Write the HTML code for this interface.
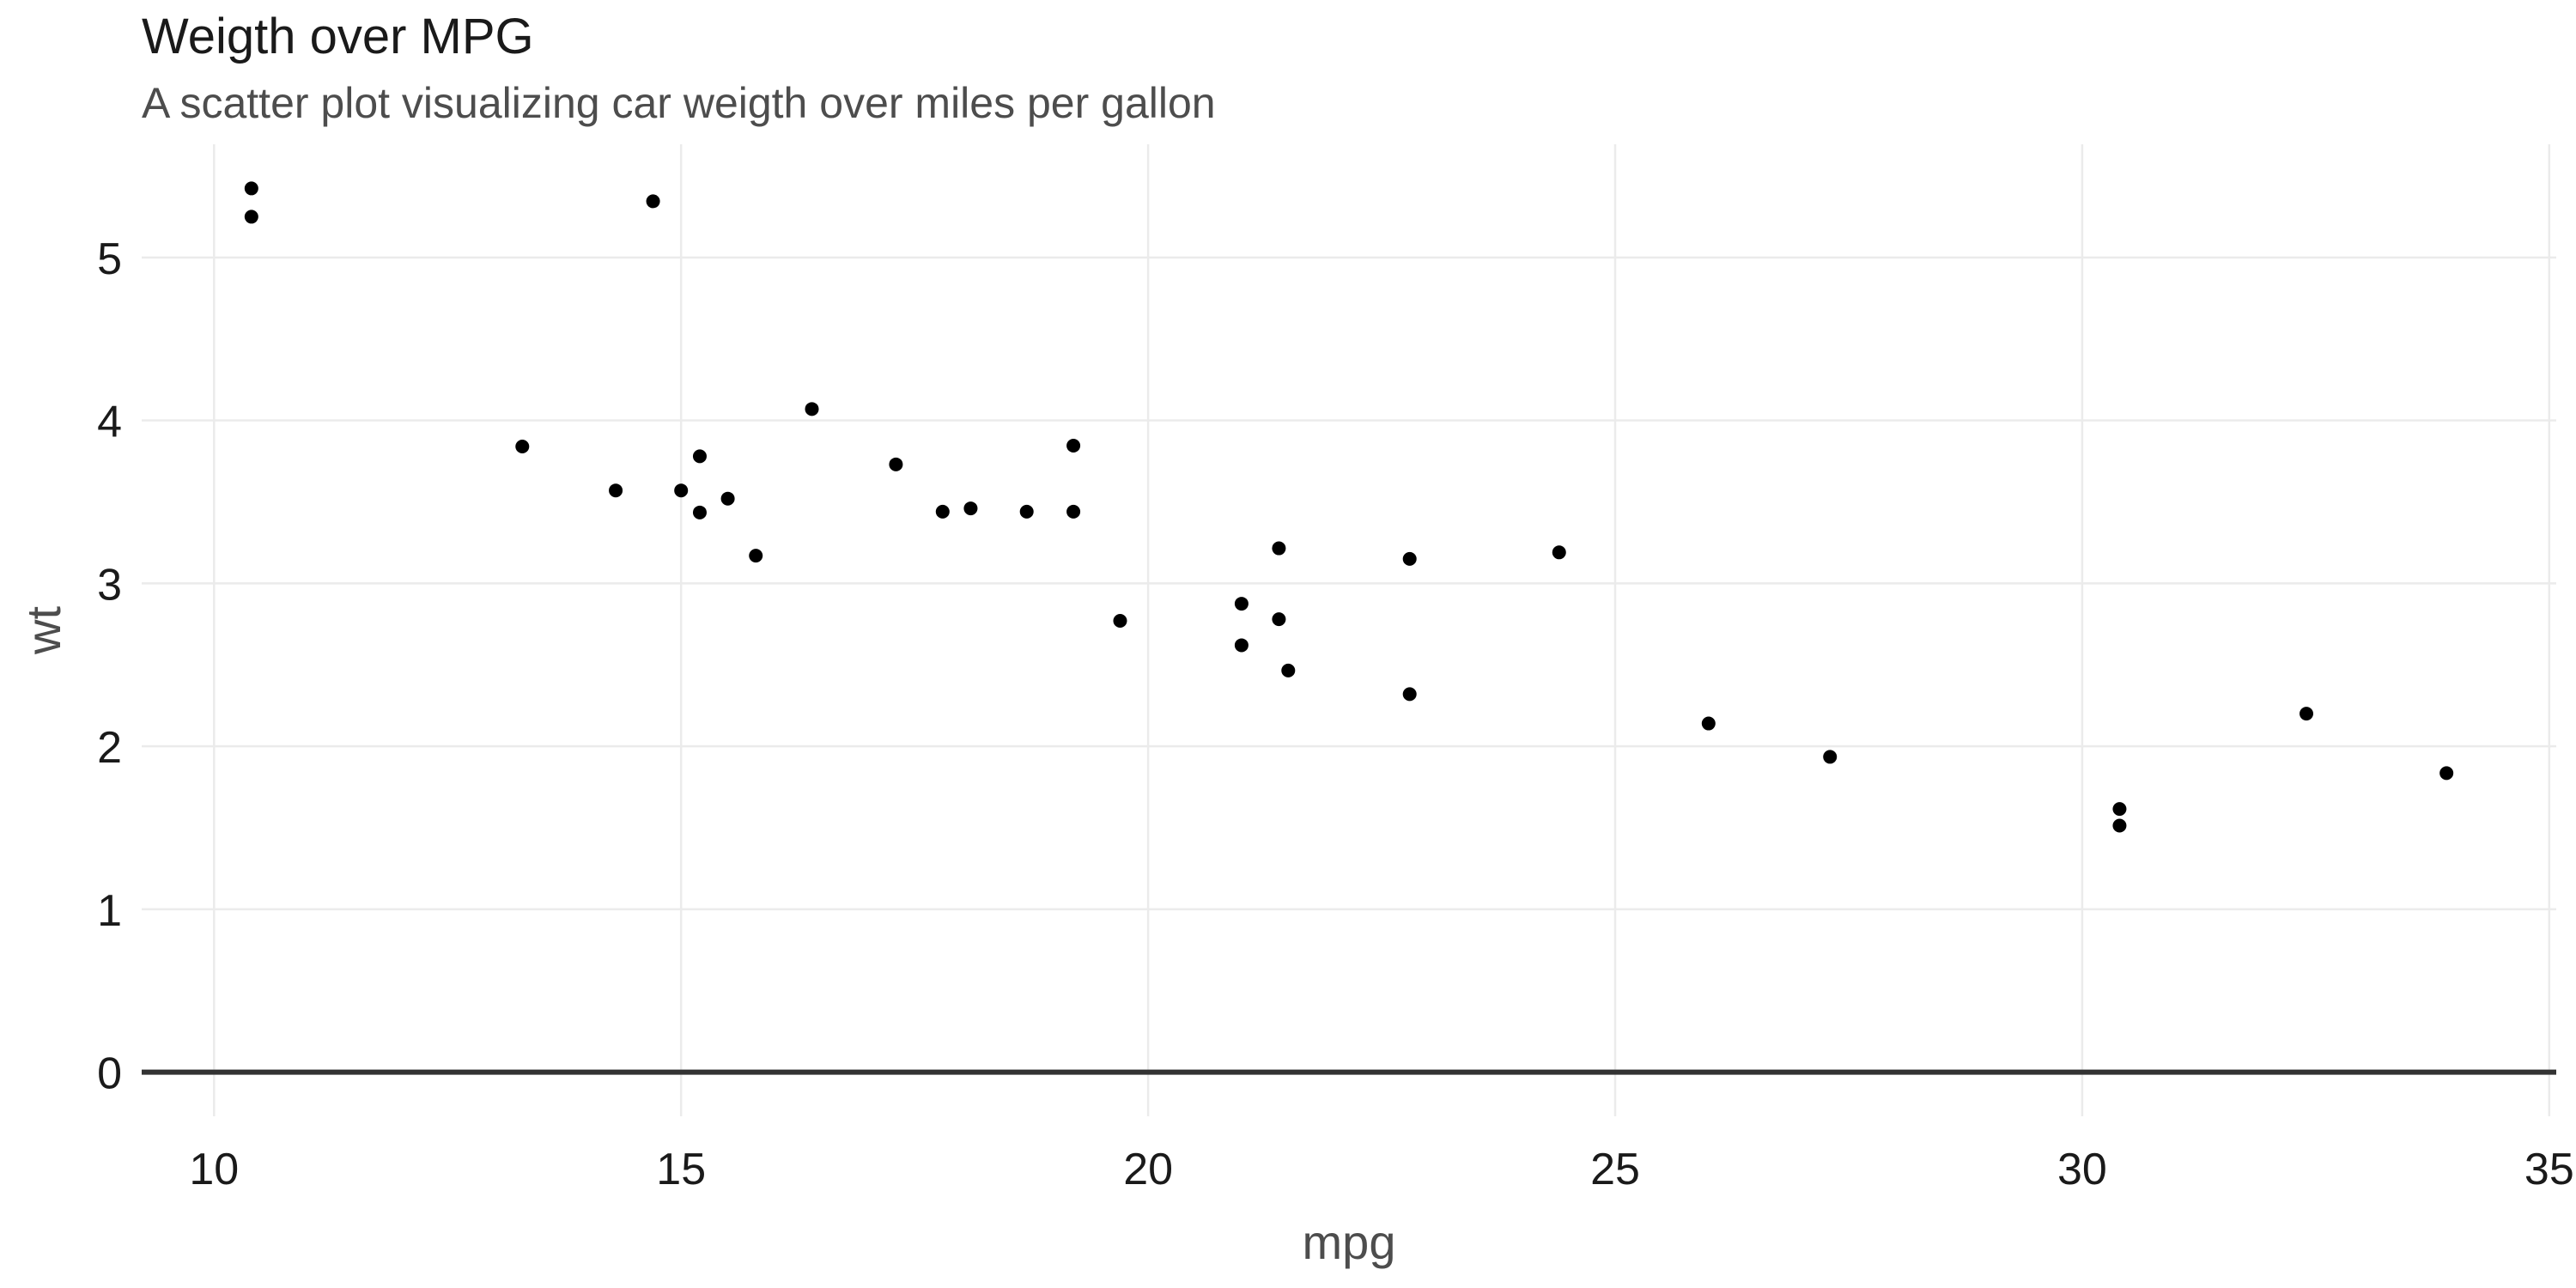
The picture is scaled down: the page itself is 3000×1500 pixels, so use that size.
<!DOCTYPE html>
<html><head><meta charset="utf-8"><style>
html,body{margin:0;padding:0;background:#fff;width:3000px;height:1500px;overflow:hidden}
svg text{font-family:"Liberation Sans",sans-serif}
</style></head><body>
<svg id="chart" width="3000" height="1500" xmlns="http://www.w3.org/2000/svg">
<text x="165" y="62" font-size="58" fill="#1a1a1a">Weigth over MPG</text>
<text x="165" y="137" font-size="50" fill="#4d4d4d">A scatter plot visualizing car weigth over miles per gallon</text>
<g id="grid"></g>
<g id="xticks"></g>
<g id="yticks"></g>
<g id="hline"></g>
<g id="points"></g>
<text x="1571" y="1466" font-size="56" fill="#4d4d4d" text-anchor="middle">mpg</text>
<text transform="translate(70,734) rotate(-90)" font-size="56" fill="#4d4d4d" text-anchor="middle">wt</text>
</svg>
<script>
const mpg=[21,21,22.8,21.4,18.7,18.1,14.3,24.4,22.8,19.2,17.8,16.4,17.3,15.2,10.4,10.4,14.7,32.4,30.4,33.9,21.5,15.5,15.2,13.3,19.2,27.3,26,30.4,15.8,19.7,15,21.4];
const wt=[2.62,2.875,2.32,3.215,3.44,3.46,3.57,3.19,3.15,3.44,3.44,4.07,3.73,3.78,5.25,5.424,5.345,2.2,1.615,1.835,2.465,3.52,3.435,3.84,3.845,1.935,2.14,1.513,3.17,2.77,3.57,2.78];
const xTicks=[10,15,20,25,30,35];
const yTicks=[0,1,2,3,4,5];
const L=165,R=2977,T=168,B=1300;
const xMin=9.225,xMax=35.075,yMin=-0.271,yMax=5.695;
const sx=v=>L+(v-xMin)/(xMax-xMin)*(R-L);
const sy=v=>B-(v-yMin)/(yMax-yMin)*(B-T);
const NS="http://www.w3.org/2000/svg";
function mk(tag,parent,attrs){const e=document.createElementNS(NS,tag);for(const k in attrs)e.setAttribute(k,attrs[k]);parent.appendChild(e);return e;}
const grid=document.getElementById('grid'),xt=document.getElementById('xticks'),yt=document.getElementById('yticks');
xTicks.forEach(t=>{
  const l=mk('line',grid,{x1:sx(t),x2:sx(t),y1:T,y2:B,stroke:'#ebebeb','stroke-width':2.5});
  
  
  const tx=mk('text',xt,{x:sx(t),y:1379,'font-size':52,fill:'#1a1a1a','text-anchor':'middle'});
  tx.textContent=t;
  
  
});
yTicks.forEach(t=>{
  const l=mk('line',grid,{x1:L,x2:R,y1:sy(t),y2:sy(t),stroke:'#ebebeb','stroke-width':2.5});
  
  
  const tx=mk('text',yt,{x:142,y:sy(t)+19,'font-size':52,fill:'#1a1a1a','text-anchor':'end'});
  tx.textContent=t;
  
  
});
const hl=mk('line',document.getElementById('hline'),{x1:L,x2:R,y1:sy(0),y2:sy(0),stroke:'#333','stroke-width':6});


const pg=document.getElementById('points');
mpg.forEach((m,i)=>{
  const c=mk('circle',pg,{cx:sx(m),cy:sy(wt[i]),r:8,fill:'#000'});
  
  
});
</script>
</body></html>
